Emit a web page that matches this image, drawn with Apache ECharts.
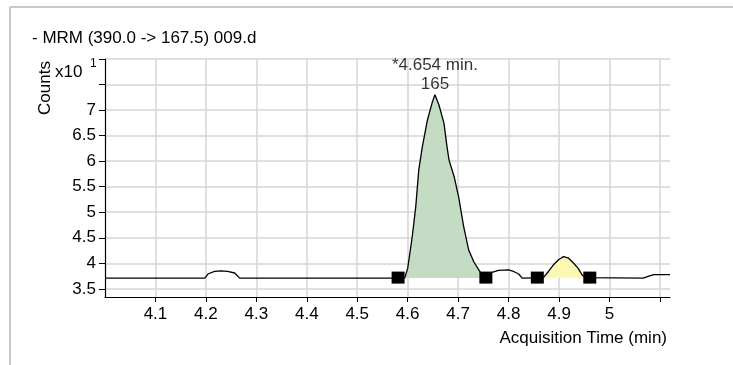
<!DOCTYPE html>
<html>
<head>
<meta charset="utf-8">
<script src="https://cdn.jsdelivr.net/npm/echarts@6/dist/echarts.min.js"></script>
<style>
  html, body { margin: 0; padding: 0; background: #ffffff; }
  #chart { width: 733px; height: 365px; }
</style>
</head>
<body>
<div id="chart"></div>
<script>
// MRM chromatogram, transition 390.0 -> 167.5, file 009.d
const titleText = '- MRM (390.0 -> 167.5) 009.d';

// Trace: acquisition time (min) and counts (x10^1)
const traceTime = [
  4.000, 4.198, 4.204, 4.217, 4.230, 4.243, 4.257, 4.261, 4.267,
  4.594, 4.600, 4.609, 4.616, 4.622, 4.629, 4.639, 4.649, 4.654,
  4.662, 4.672, 4.678, 4.682, 4.692, 4.701, 4.711, 4.721, 4.731,
  4.741, 4.748, 4.755, 4.767, 4.780, 4.800, 4.810, 4.820, 4.827,
  4.869, 4.879, 4.889, 4.899, 4.909, 4.919, 4.929, 4.938, 4.946,
  4.952, 5.067, 5.078, 5.088, 5.120
];
const traceCounts = [
  3.71, 3.71, 3.79, 3.84, 3.85, 3.84, 3.81, 3.77, 3.71,
  3.71, 3.90, 4.52, 5.11, 5.83, 6.28, 6.80, 7.16, 7.30,
  7.10, 6.74, 6.28, 6.02, 5.70, 5.30, 4.72, 4.26, 4.03,
  3.87, 3.77, 3.73, 3.82, 3.86, 3.87, 3.84, 3.79, 3.71,
  3.72, 3.84, 3.97, 4.07, 4.13, 4.10, 4.00, 3.90, 3.77,
  3.72, 3.71, 3.75, 3.78, 3.78
];

// Integration: baseline level and start/end markers of each integrated peak
const baselineLevel = 3.71;
const mainPeakBounds = [4.581, 4.755];
const minorPeakBounds = [4.857, 4.961];

// Apex annotation of the main peak
const apexTime = 4.654;
const apexCounts = 7.30;
const apexArea = 165;

// Axis ticks and labels
const xTicks = [4.1, 4.2, 4.3, 4.4, 4.5, 4.6, 4.7, 4.8, 4.9, 5.0, 5.1];
const xLabels = [4.1, 4.2, 4.3, 4.4, 4.5, 4.6, 4.7, 4.8, 4.9, 5.0];
const yTicks = [3.5, 4, 4.5, 5, 5.5, 6, 6.5, 7, 7.5, 8];
const yLabels = [3.5, 4, 4.5, 5, 5.5, 6, 6.5, 7];

const FONT = 'Liberation Sans';
const FS = 17;
const INK = '#000';

const trace = traceTime.map((t, i) => [t, traceCounts[i]]);

function peakArea(bounds) {
  const inside = trace.filter(p => p[0] > bounds[0] && p[0] < bounds[1]);
  return [[bounds[0], baselineLevel]].concat(inside, [[bounds[1], baselineLevel]]);
}

const markers = mainPeakBounds.concat(minorPeakBounds).map(t => [t, baselineLevel + 0.01]);

function fmt(v) {
  return String(Math.round(v * 10) / 10);
}

const chart = echarts.init(document.getElementById('chart'), null, { renderer: 'canvas' });

chart.setOption({
  animation: false,
  backgroundColor: '#ffffff',
  textStyle: { fontFamily: FONT },
  grid: { left: 105, right: 63, top: 59, bottom: 68, containLabel: false },
  xAxis: {
    type: 'value',
    min: 4.0,
    max: 5.12,
    axisLine: { show: true, lineStyle: { color: INK, width: 1.2 } },
    axisTick: { show: true, customValues: xTicks, length: 5, lineStyle: { color: INK } },
    axisLabel: {
      customValues: xLabels,
      formatter: fmt,
      color: INK, fontFamily: FONT, fontSize: FS, margin: 9
    },
    splitLine: { show: true, lineStyle: { color: '#d6d6d6', width: 1.5 } }
  },
  yAxis: {
    type: 'value',
    min: 3.34,
    max: 8,
    axisLine: { show: true, lineStyle: { color: INK, width: 1.2 } },
    axisTick: { show: true, customValues: yTicks, length: 6, lineStyle: { color: INK } },
    axisLabel: {
      customValues: yLabels,
      formatter: fmt,
      color: INK, fontFamily: FONT, fontSize: FS, margin: 9
    },
    splitLine: { show: true, lineStyle: { color: '#d6d6d6', width: 1.5 } }
  },
  series: [
    {
      name: 'main peak',
      type: 'line',
      data: peakArea(mainPeakBounds),
      showSymbol: false,
      lineStyle: { width: 0 },
      areaStyle: { color: '#c3dcc3', opacity: 1, origin: baselineLevel },
      z: 1,
      silent: true
    },
    {
      name: 'minor peak',
      type: 'line',
      data: peakArea(minorPeakBounds),
      showSymbol: false,
      lineStyle: { width: 0 },
      areaStyle: { color: '#fbf8b4', opacity: 1, origin: baselineLevel },
      z: 1,
      silent: true
    },
    {
      name: 'trace',
      type: 'line',
      data: trace,
      showSymbol: false,
      lineStyle: { color: INK, width: 1.3 },
      z: 3
    },
    {
      name: 'integration markers',
      type: 'scatter',
      data: markers,
      symbol: 'rect',
      symbolSize: [13, 12],
      itemStyle: { color: INK, opacity: 1 },
      z: 4
    },
    {
      name: 'apex',
      type: 'scatter',
      data: [[apexTime, apexCounts]],
      symbolSize: 0,
      label: {
        show: true,
        position: 'top',
        distance: 1,
        formatter: '*' + apexTime.toFixed(3) + ' min.\n' + apexArea,
        color: INK,
        fontFamily: FONT,
        fontSize: FS,
        lineHeight: 19,
        align: 'center'
      },
      z: 5
    }
  ],
  graphic: [
    { type: 'line', shape: { x1: 10, y1: 7, x2: 733, y2: 7 }, style: { stroke: '#c8c8c8', lineWidth: 2 }, silent: true },
    { type: 'line', shape: { x1: 10, y1: 7, x2: 10, y2: 365 }, style: { stroke: '#c8c8c8', lineWidth: 2 }, silent: true },
    {
      type: 'text', x: 32, y: 38,
      style: { text: titleText, font: FS + 'px "' + FONT + '"', fill: INK, textAlign: 'left', textVerticalAlign: 'middle' }
    },
    {
      type: 'text', x: 45, y: 88, rotation: Math.PI / 2,
      style: { text: 'Counts', font: FS + 'px "' + FONT + '"', fill: INK, textAlign: 'center', textVerticalAlign: 'middle' }
    },
    {
      type: 'text', x: 55, y: 72,
      style: { text: 'x10', font: FS + 'px "' + FONT + '"', fill: INK, textAlign: 'left', textVerticalAlign: 'middle' }
    },
    {
      type: 'text', x: 90, y: 64,
      style: { text: '1', font: '12px "' + FONT + '"', fill: INK, textAlign: 'left', textVerticalAlign: 'middle' }
    },
    {
      type: 'text', x: 667, y: 338,
      style: { text: 'Acquisition Time (min)', font: FS + 'px "' + FONT + '"', fill: INK, textAlign: 'right', textVerticalAlign: 'middle' }
    }
  ]
});
</script>
</body>
</html>
